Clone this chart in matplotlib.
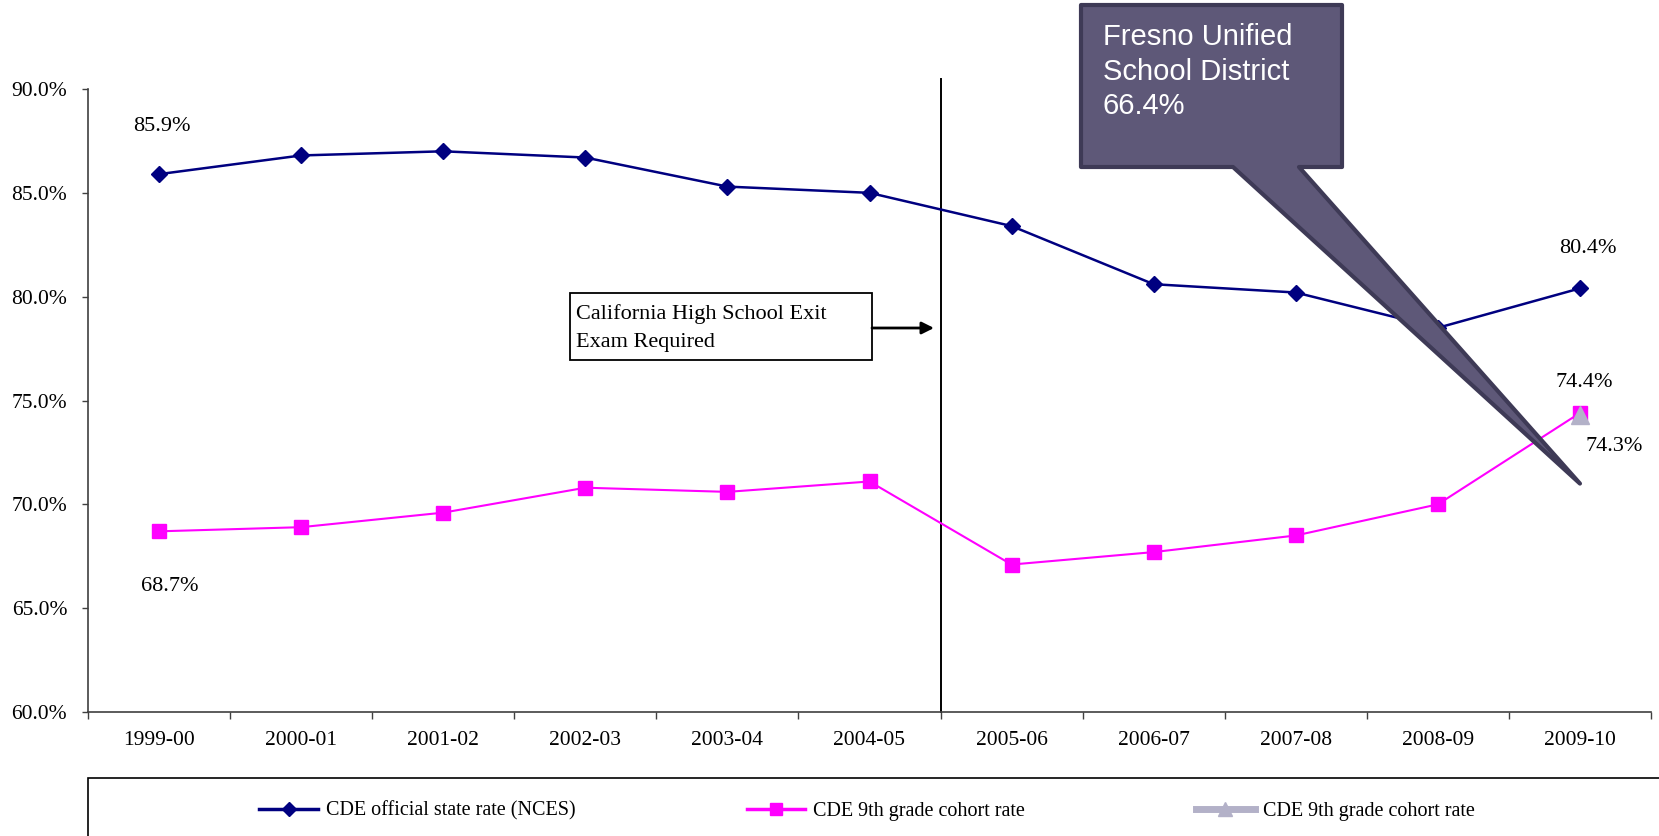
import numpy as np
import matplotlib
matplotlib.use("Agg")
import matplotlib.pyplot as plt
from matplotlib.patches import Polygon, Rectangle
from matplotlib.lines import Line2D

plt.rcParams['font.family'] = ['Liberation Serif', 'DejaVu Serif']

years = ["1999-00", "2000-01", "2001-02", "2002-03", "2003-04", "2004-05",
         "2005-06", "2006-07", "2007-08", "2008-09", "2009-10"]
state_rate = [85.9, 86.8, 87.0, 86.7, 85.3, 85.0, 83.4, 80.6, 80.2, 78.5, 80.4]
cohort_rate = [68.7, 68.9, 69.6, 70.8, 70.6, 71.1, 67.1, 67.7, 68.5, 70.0, 74.4]
cohort_rate2 = [np.nan] * 10 + [74.3]
y_ticks = [60, 65, 70, 75, 80, 85, 90]
labels = ["CDE official state rate (NCES)", "CDE 9th grade cohort rate", "CDE 9th grade cohort rate"]

W, H = 1659, 836
fig = plt.figure(figsize=(W / 100, H / 100), dpi=100)

def px(x, y):  # figure pixel -> figure fraction
    return (x / W, 1 - y / H)

ax = fig.add_axes([88 / W, 1 - 712 / H, (1651 - 88) / W, (712 - 89) / H])
x = np.arange(len(years))

ax.plot(x, state_rate, color='#000080', lw=1.8, marker='D', ms=8, zorder=3)
ax.plot(x, cohort_rate, color='#FF00FF', lw=1.5, marker='s', ms=10, zorder=3)
ax.plot(x, cohort_rate2, color='#B3B1C8', lw=4, marker='^', ms=13, zorder=4)

ax.set_xlim(-0.5, len(years) - 0.5)
ax.set_ylim(60, 90)
ax.set_yticks(y_ticks)
ax.set_yticklabels(["%.1f%%" % v for v in y_ticks])
ax.set_xticks(x)
ax.set_xticklabels(years)
ax.set_xticks(np.arange(len(years) + 1) - 0.5, minor=True)
ax.tick_params(axis='x', which='major', length=0, pad=14, labelsize=15.5)
ax.tick_params(axis='x', which='minor', length=5, width=1, color='#404040')
ax.tick_params(axis='y', length=4, width=1, color='#404040', pad=11, labelsize=15.5)
for s in ['top', 'right']:
    ax.spines[s].set_visible(False)
for s in ['left', 'bottom']:
    ax.spines[s].set_color('#404040')
    ax.spines[s].set_linewidth(1.2)

# exit exam line between 2004-05 and 2005-06
ax.plot([5.5, 5.5], [60, 90.5], color='black', lw=1.4, clip_on=False, zorder=2)

# data labels
ax.annotate("%.1f%%" % state_rate[0], (0, state_rate[0]), xytext=(2, 34),
            textcoords='offset points', ha='center', va='center', fontsize=16)
ax.annotate("%.1f%%" % cohort_rate[0], (0, cohort_rate[0]), xytext=(8, -40),
            textcoords='offset points', ha='center', va='center', fontsize=16)
ax.annotate("%.1f%%" % state_rate[-1], (10, state_rate[-1]), xytext=(6, 29),
            textcoords='offset points', ha='center', va='center', fontsize=16)
ax.annotate("%.1f%%" % cohort_rate[-1], (10, cohort_rate[-1]), xytext=(3, 22),
            textcoords='offset points', ha='center', va='center', fontsize=16)
ax.annotate("%.1f%%" % cohort_rate2[-1], (10, cohort_rate2[-1]), xytext=(25, -23),
            textcoords='offset points', ha='center', va='center', fontsize=16)

# exit exam note box with arrow
fig.add_artist(Rectangle(px(570, 360), 302 / W, 67 / H, transform=fig.transFigure,
                         facecolor='white', edgecolor='black', lw=1.3, zorder=5))
fig.text(*px(576, 314), "California High School Exit", fontsize=16, va='center', ha='left', zorder=6)
fig.text(*px(576, 342), "Exam Required", fontsize=16, va='center', ha='left', zorder=6)
fig.add_artist(matplotlib.patches.FancyArrowPatch(px(872, 328), px(934, 328), transform=fig.transFigure,
                                                  arrowstyle='-|>', mutation_scale=18, color='black',
                                                  lw=2, shrinkA=0, shrinkB=0, zorder=5))

# Fresno callout
tip = fig.transFigure.inverted().transform(ax.transData.transform((10, 71.0)))
callout = [px(1081, 5), px(1342, 5), px(1342, 167), px(1299, 167), tuple(tip),
           px(1233, 167), px(1081, 167)]
fig.add_artist(Polygon(callout, closed=True, transform=fig.transFigure,
                       facecolor='#5E5878', edgecolor='#3E3A56', lw=3, joinstyle='round', zorder=7))
fig.text(*px(1103, 23), "Fresno Unified\nSchool District\n66.4%", color='white',
         fontsize=21, family=['Liberation Sans', 'DejaVu Sans'], va='top', ha='left',
         linespacing=1.3, zorder=8)

# legend box
fig.add_artist(Rectangle(px(88, 840), (1700 - 88) / W, 62 / H, transform=fig.transFigure,
                         facecolor='white', edgecolor='black', lw=1.2, zorder=1))
handles = [Line2D([], [], color='#000080', lw=2.5, marker='D', ms=7),
           Line2D([], [], color='#FF00FF', lw=2.5, marker='s', ms=9),
           Line2D([], [], color='#B3B1C8', lw=5, marker='^', ms=10)]
fig.legend(handles, labels, loc='center', bbox_to_anchor=px(867, 811), ncol=3, frameon=False,
           fontsize=14.5, handlelength=2.9, handletextpad=0.4, columnspacing=8.5)

fig.savefig("out.png", dpi=100)
